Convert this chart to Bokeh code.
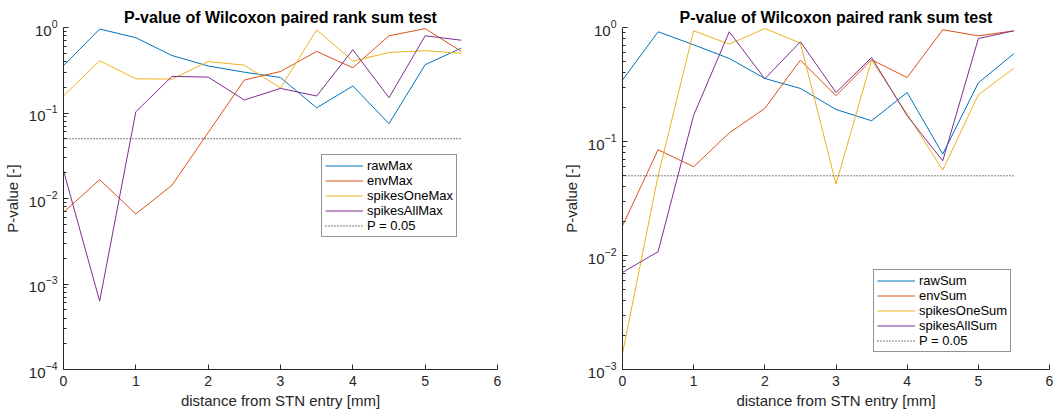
from bokeh.plotting import figure
from bokeh.layouts import row
from bokeh.models import Title, FixedTicker, Range1d
from bokeh.embed import file_html
from bokeh.resources import INLINE

# ---------------- data ----------------
distance = [0.0, 0.5, 1.0, 1.5, 2.0, 2.5, 3.0, 3.5, 4.0, 4.5, 5.0, 5.5]

raw_max = [0.357, 0.96, 0.76, 0.47, 0.355, 0.30, 0.26, 0.115, 0.207, 0.075, 0.367, 0.575]
env_max = [0.0069, 0.0166, 0.0066, 0.0143, 0.059, 0.243, 0.306, 0.525, 0.338, 0.80, 0.97, 0.525]
spikes_one_max = [0.159, 0.408, 0.251, 0.249, 0.40, 0.363, 0.196, 0.94, 0.405, 0.51, 0.535, 0.50]
spikes_all_max = [0.0212, 0.00063, 0.1035, 0.268, 0.263, 0.142, 0.194, 0.158, 0.549, 0.151, 0.80, 0.71]

raw_sum = [0.346, 0.917, 0.705, 0.535, 0.357, 0.292, 0.191, 0.152, 0.269, 0.0775, 0.327, 0.59]
env_sum = [0.0182, 0.0846, 0.060, 0.119, 0.195, 0.518, 0.252, 0.521, 0.364, 0.955, 0.845, 0.935]
spikes_one_sum = [0.00138, 0.050, 0.935, 0.715, 0.98, 0.73, 0.0423, 0.517, 0.174, 0.0561, 0.257, 0.44]
spikes_all_sum = [0.0071, 0.0108, 0.17, 0.917, 0.355, 0.75, 0.269, 0.546, 0.168, 0.0677, 0.80, 0.935]

threshold = 0.05
threshold_label = "P = 0.05"

max_labels = ["rawMax", "envMax", "spikesOneMax", "spikesAllMax"]
sum_labels = ["rawSum", "envSum", "spikesOneSum", "spikesAllSum"]

x_ticks = [0, 1, 2, 3, 4, 5, 6]
title_text = "P-value of Wilcoxon paired rank sum test"
xlabel = "distance from STN entry [mm]"
ylabel = "P-value [-]"

colors = ["#0072BD", "#D95319", "#EDB120", "#7E2F8E"]
FONT = "Liberation Sans"
AX = "#262626"


def make(series, labels, ymin_exp, border_left, border_right, legend_loc):
    p = figure(width=531, height=414, y_axis_type="log",
               x_range=Range1d(0, 6), y_range=Range1d(10.0 ** ymin_exp, 1.0),
               output_backend="svg", toolbar_location=None,
               min_border_left=border_left, min_border_right=border_right,
               min_border_top=27, min_border_bottom=45)
    p.title = Title(text=title_text, align="center", offset=-27,
                    text_font=FONT, text_font_size="16px", text_font_style="bold",
                    text_color="#000000", standoff=4)
    p.outline_line_color = None
    p.xgrid.visible = False
    p.ygrid.visible = False
    p.background_fill_color = "white"
    p.border_fill_color = "white"

    for ys, lab, c in zip(series, labels, colors):
        p.line(distance, ys, line_color=c, line_width=1, legend_label=lab)
    p.line([distance[0], distance[-1]], [threshold, threshold], line_color="black",
           line_width=1, line_dash="1 2", legend_label=threshold_label)

    majors = [10.0 ** k for k in range(ymin_exp, 1)]
    minors = [m * 10.0 ** k for k in range(ymin_exp, 0) for m in range(2, 10)]
    p.yaxis.ticker = FixedTicker(ticks=majors, minor_ticks=minors)
    p.xaxis.ticker = FixedTicker(ticks=x_ticks)

    for ax in (p.xaxis[0], p.yaxis[0]):
        ax.axis_line_color = AX
        ax.major_tick_line_color = AX
        ax.minor_tick_line_color = AX
        ax.major_tick_in = 5
        ax.major_tick_out = 0
        ax.minor_tick_in = 3
        ax.minor_tick_out = 0
        ax.major_label_text_font = FONT
        ax.major_label_text_font_size = "14px"
        ax.major_label_text_color = AX
        ax.axis_label_text_font = FONT
        ax.axis_label_text_font_size = "15px"
        ax.axis_label_text_font_style = "normal"
        ax.axis_label_text_color = AX
    p.yaxis.major_label_text_font_size = "15px"
    p.xaxis.minor_tick_line_color = None
    p.yaxis.axis_label = ylabel
    p.xaxis.major_label_standoff = 6
    p.yaxis.major_label_standoff = 6
    p.yaxis.axis_label_standoff = 5

    xt = Title(text=xlabel, align="center", offset=-14, text_font=FONT,
               text_font_size="15px", text_font_style="normal", text_color=AX,
               standoff=2)
    p.add_layout(xt, "below")

    lg = p.legend[0]
    lg.location = legend_loc
    lg.padding = 3
    lg.spacing = 0
    lg.margin = 0
    lg.label_height = 15
    lg.glyph_height = 15
    lg.glyph_width = 38
    lg.label_standoff = 4
    lg.label_text_font = FONT
    lg.label_text_font_size = "13px"
    lg.label_text_color = "#000000"
    lg.border_line_color = AX
    lg.border_line_width = 1
    lg.background_fill_alpha = 1.0
    return p


left = make([raw_max, env_max, spikes_one_max, spikes_all_max], max_labels, -4, 62, 34, (258, 132))
right = make([raw_sum, env_sum, spikes_one_sum, spikes_all_sum], sum_labels, -3, 91, 13, (251, 17))

layout = row(left, right)
open("out.html", "w").write(file_html(layout, INLINE))
